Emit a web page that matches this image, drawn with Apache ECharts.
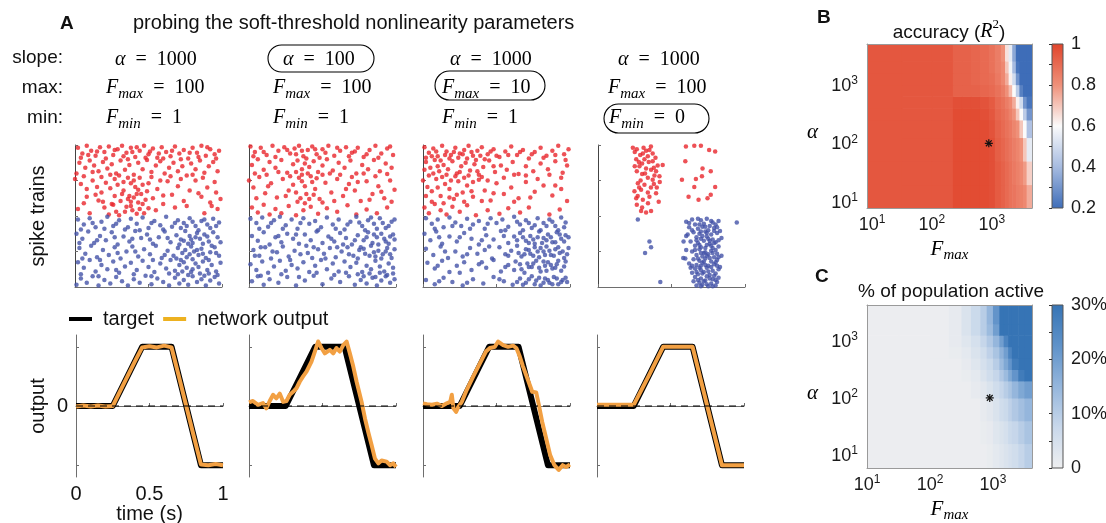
<!DOCTYPE html>
<html>
<head>
<meta charset="utf-8">
<script src="https://cdn.jsdelivr.net/npm/echarts@6/dist/echarts.min.js"></script>
<style>
html, body { margin: 0; padding: 0; background: #fff; }
#chart { width: 1106px; height: 523px; }
</style>
</head>
<body>
<div id="chart"></div>
<script>
const SANS = '"Liberation Sans", Arial, sans-serif'
const SERIF = '"Liberation Serif", "Times New Roman", serif'

// ---------- data ----------
// spike rasters: [time (s), neuron index]; red = upper population, blue = lower
const redSpikes1 = [[0.02,196],[0.05,188],[0.08,199],[0.11,192],[0.14,185],[0.17,197],[0.2,190],[0.23,198],[0.26,186],[0.29,194],[0.32,199],[0.35,189],[0.38,196],[0.41,183],[0.44,192],[0.47,199],[0.5,187],[0.53,195],[0.56,182],[0.59,197],[0.62,190],[0.65,184],[0.68,198],[0.71,188],[0.74,193],[0.77,181],[0.8,196],[0.83,189],[0.86,199],[0.89,185],[0.92,194],[0.95,187],[0.98,192],
  [0.03,175],[0.07,168],[0.1,178],[0.13,171],[0.16,163],[0.19,176],[0.22,167],[0.25,173],[0.28,160],[0.31,178],[0.34,165],[0.37,172],[0.4,158],[0.43,175],[0.46,166],[0.49,179],[0.52,162],[0.55,171],[0.58,177],[0.61,160],[0.64,168],[0.67,175],[0.7,163],[0.73,170],[0.76,157],[0.79,174],[0.82,166],[0.85,178],[0.88,161],[0.91,170],[0.94,176],[0.97,163],
  [0.0,152],[0.04,145],[0.08,138],[0.12,150],[0.15,141],[0.18,133],[0.21,147],[0.24,139],[0.27,128],[0.29,144],[0.31,121],[0.33,136],[0.35,113],[0.37,128],[0.39,108],[0.41,141],[0.43,119],[0.45,131],[0.47,104],[0.5,146],[0.53,125],[0.56,138],[0.6,117],[0.63,149],[0.66,130],[0.7,142],[0.74,121],[0.78,136],[0.82,150],[0.86,127],[0.9,140],[0.93,114],[0.96,133],[0.99,124],
  [0.02,110],[0.06,118],[0.1,104],[0.16,122],[0.2,112],[0.23,102],[0.26,116],[0.3,101],[0.34,106],[0.38,120],[0.42,103],[0.44,110],[0.48,123],[0.55,108],[0.68,112],[0.88,104],[0.97,110],
  [0.04,182],[0.09,186],[0.15,191],[0.21,181],[0.27,193],[0.33,184],[0.36,180],[0.39,190],[0.42,197],[0.48,182],[0.51,191],[0.57,188],[0.6,181],[0.66,192],[0.72,180],[0.78,189],[0.84,183],[0.9,197],[0.96,181],
  [0.01,160],[0.06,156],[0.12,162],[0.18,155],[0.24,158],[0.27,152],[0.3,157],[0.33,148],[0.36,154],[0.38,146],[0.4,150],[0.42,131],[0.44,154],[0.46,144],[0.49,135],[0.52,155],[0.58,150],[0.65,156],[0.72,152],[0.8,158],[0.87,154],[0.95,148],
  [0.25,117],[0.28,106],[0.32,131],[0.36,124],[0.38,114],[0.4,126],[0.43,137],[0.46,117],[0.5,111],[0.6,129],[0.76,114],[0.84,132],[0.92,119],[0.08,127],[0.14,130],[0.19,120]]
const blueSpikes1 = [[0.02,95],[0.06,88],[0.1,97],[0.14,84],[0.18,92],[0.22,99],[0.26,86],[0.3,94],[0.34,81],[0.38,96],[0.42,89],[0.46,98],[0.5,83],[0.54,93],[0.58,87],[0.62,99],[0.66,85],[0.7,94],[0.74,90],[0.78,97],[0.82,86],[0.86,93],[0.9,88],[0.94,96],[0.98,91],
  [0.01,75],[0.05,68],[0.09,78],[0.13,62],[0.17,72],[0.21,66],[0.25,77],[0.29,60],[0.33,71],[0.37,64],[0.41,79],[0.45,69],[0.49,74],[0.53,61],[0.57,70],[0.61,78],[0.65,63],[0.69,73],[0.72,67],[0.75,79],[0.78,72],[0.8,62],[0.83,76],[0.85,68],[0.88,74],[0.91,64],[0.94,77],[0.97,70],
  [0.03,55],[0.07,47],[0.11,58],[0.15,42],[0.19,52],[0.23,45],[0.27,56],[0.31,40],[0.35,50],[0.39,57],[0.43,43],[0.47,53],[0.51,46],[0.55,58],[0.59,41],[0.63,51],[0.67,44],[0.7,55],[0.73,48],[0.76,42],[0.79,57],[0.81,50],[0.84,45],[0.86,54],[0.89,41],[0.92,49],[0.95,56],[0.98,44],
  [0.02,35],[0.06,27],[0.1,38],[0.14,22],[0.18,31],[0.22,25],[0.26,36],[0.3,20],[0.34,29],[0.38,34],[0.42,24],[0.46,37],[0.5,28],[0.54,21],[0.58,33],[0.62,26],[0.65,38],[0.68,23],[0.71,31],[0.74,35],[0.76,27],[0.79,21],[0.82,33],[0.84,28],[0.87,36],[0.9,24],[0.93,31],[0.96,22],[0.99,34],
  [0.01,3],[0.04,12],[0.08,6],[0.12,15],[0.16,2],[0.2,10],[0.24,5],[0.28,14],[0.32,8],[0.36,2],[0.4,11],[0.44,6],[0.48,16],[0.52,4],[0.56,12],[0.6,7],[0.64,2],[0.68,13],[0.71,5],[0.74,10],[0.77,3],[0.8,15],[0.83,7],[0.86,11],[0.89,2],[0.92,9],[0.95,14],[0.98,5],
  [0.04,81],[0.12,90],[0.2,82],[0.28,89],[0.36,84],[0.44,80],[0.52,90],[0.6,81],[0.68,90],[0.72,83],[0.76,86],[0.8,92],[0.84,80],[0.88,95],[0.92,83],[0.96,86],
  [0.03,62],[0.15,66],[0.27,70],[0.39,68],[0.51,67],[0.63,69],[0.71,60],[0.74,65],[0.77,61],[0.79,67],[0.82,70],[0.87,61],[0.9,71],[0.93,58],[0.99,63],
  [0.05,40],[0.17,38],[0.29,48],[0.41,50],[0.53,38],[0.61,45],[0.69,40],[0.72,38],[0.75,52],[0.78,46],[0.8,39],[0.83,52],[0.87,47],[0.91,38],[0.96,48],
  [0.04,18],[0.16,15],[0.28,24],[0.4,18],[0.52,15],[0.64,19],[0.7,18],[0.73,22],[0.77,17],[0.8,25],[0.85,19],[0.88,16],[0.91,19],[0.97,17]]
const redSpikes2 = [[0.01,198],[0.04,190],[0.08,196],[0.12,186],[0.16,199],[0.2,192],[0.24,197],[0.28,188],[0.31,195],[0.34,199],[0.37,184],[0.4,193],[0.43,198],[0.46,187],[0.5,194],[0.54,199],[0.58,185],[0.62,192],[0.66,197],[0.7,189],[0.74,196],[0.78,183],[0.82,193],[0.86,199],[0.9,188],[0.94,195],[0.98,186],
  [0.02,172],[0.06,180],[0.1,165],[0.14,176],[0.18,168],[0.22,179],[0.26,161],[0.3,173],[0.33,178],[0.36,166],[0.38,174],[0.41,169],[0.44,177],[0.47,162],[0.5,171],[0.53,180],[0.57,164],[0.61,175],[0.65,168],[0.69,178],[0.73,160],[0.77,172],[0.81,166],[0.85,179],[0.89,163],[0.93,174],[0.97,168],
  [0.0,150],[0.03,140],[0.07,155],[0.11,132],[0.15,146],[0.19,126],[0.23,152],[0.27,136],[0.3,144],[0.33,120],[0.36,149],[0.39,131],[0.42,156],[0.45,138],[0.48,124],[0.52,147],[0.56,133],[0.6,152],[0.64,128],[0.68,145],[0.72,136],[0.76,121],[0.8,149],[0.84,131],[0.88,142],[0.92,125],[0.96,150],[0.99,137],
  [0.02,112],[0.06,105],[0.1,116],[0.14,102],[0.18,110],[0.22,104],[0.27,114],[0.32,101],[0.37,108],[0.42,113],[0.47,103],[0.53,111],[0.6,106],[0.67,115],[0.73,102],[0.8,109],[0.87,104],[0.94,112],
  [0.03,184],[0.1,190],[0.18,183],[0.26,193],[0.32,187],[0.36,192],[0.39,181],[0.45,194],[0.48,182],[0.52,189],[0.6,196],[0.68,184],[0.72,191],[0.8,187],[0.88,182],[0.96,198],
  [0.04,160],[0.12,158],[0.2,162],[0.28,156],[0.32,162],[0.34,154],[0.36,158],[0.38,142],[0.4,160],[0.43,148],[0.46,153],[0.5,158],[0.55,160],[0.62,158],[0.7,155],[0.78,160],[0.86,156],[0.94,159],
  [0.05,125],[0.13,142],[0.25,128],[0.32,133],[0.35,125],[0.38,118],[0.41,124],[0.44,130],[0.5,119],[0.58,121],[0.66,138],[0.74,148],[0.82,123],[0.9,134],[0.97,120]]
const blueSpikes2 = [[0.01,96],[0.05,90],[0.09,98],[0.13,85],[0.17,94],[0.21,99],[0.25,87],[0.29,95],[0.33,82],[0.37,97],[0.41,89],[0.45,93],[0.49,84],[0.53,98],[0.57,88],[0.61,95],[0.65,81],[0.69,92],[0.73,99],[0.77,86],[0.81,94],[0.85,89],[0.89,97],[0.93,83],[0.97,92],
  [0.02,72],[0.06,65],[0.1,77],[0.14,60],[0.18,70],[0.22,63],[0.26,75],[0.3,68],[0.34,61],[0.38,74],[0.42,66],[0.46,78],[0.5,62],[0.54,71],[0.58,64],[0.62,76],[0.66,69],[0.7,60],[0.74,73],[0.78,66],[0.81,77],[0.84,62],[0.87,70],[0.9,75],[0.93,64],[0.96,71],[0.99,67],
  [0.03,52],[0.07,44],[0.11,56],[0.15,40],[0.19,49],[0.23,57],[0.27,43],[0.31,51],[0.35,46],[0.39,58],[0.43,41],[0.47,53],[0.51,47],[0.55,55],[0.59,42],[0.63,50],[0.67,56],[0.71,44],[0.75,52],[0.79,47],[0.83,58],[0.86,43],[0.88,51],[0.91,46],[0.94,55],[0.97,41],
  [0.01,32],[0.05,24],[0.09,36],[0.13,20],[0.17,29],[0.21,37],[0.25,23],[0.29,31],[0.33,26],[0.37,35],[0.41,21],[0.45,30],[0.49,38],[0.53,25],[0.57,33],[0.61,22],[0.65,36],[0.69,28],[0.73,34],[0.77,21],[0.8,30],[0.83,25],[0.86,37],[0.89,29],[0.92,22],[0.95,33],[0.98,27],
  [0.02,8],[0.06,15],[0.1,3],[0.14,11],[0.2,6],[0.26,14],[0.32,2],[0.38,9],[0.44,16],[0.5,4],[0.56,12],[0.62,7],[0.68,15],[0.72,3],[0.76,10],[0.8,5],[0.84,13],[0.87,2],[0.9,9],[0.93,15],[0.96,6],[0.99,11],
  [0.07,82],[0.15,90],[0.23,82],[0.35,90],[0.47,80],[0.59,82],[0.67,88],[0.75,91],[0.79,80],[0.83,98],[0.87,82],[0.91,90],[0.95,86],[0.99,95],
  [0.08,56],[0.2,72],[0.32,74],[0.44,56],[0.56,68],[0.64,60],[0.72,66],[0.76,56],[0.8,70],[0.85,74],[0.88,60],[0.92,68],[0.95,61],[0.98,74],
  [0.04,44],[0.16,50],[0.28,38],[0.4,48],[0.52,40],[0.6,56],[0.68,46],[0.74,40],[0.78,54],[0.82,44],[0.85,49],[0.9,40],[0.93,50],[0.96,46],[0.99,53],
  [0.08,16],[0.22,18],[0.34,14],[0.46,20],[0.58,17],[0.66,20],[0.74,18],[0.78,15],[0.82,19],[0.86,14],[0.89,20],[0.94,17],[0.98,19]]
const redSpikes3 = [[0.01,197],[0.04,189],[0.07,195],[0.1,184],[0.13,199],[0.16,191],[0.19,186],[0.22,196],[0.25,188],[0.28,193],[0.31,199],[0.34,185],[0.37,192],[0.4,197],[0.44,187],[0.48,194],[0.52,183],[0.56,191],[0.6,198],[0.64,186],[0.68,193],[0.72,181],[0.76,190],[0.8,196],[0.84,185],[0.88,192],[0.92,199],[0.96,187],[0.99,194],
  [0.02,176],[0.05,168],[0.08,179],[0.11,163],[0.14,172],[0.17,166],[0.2,177],[0.23,160],[0.26,170],[0.29,175],[0.32,164],[0.35,173],[0.38,158],[0.41,169],[0.45,178],[0.49,162],[0.53,171],[0.57,165],[0.61,176],[0.65,159],[0.7,170],[0.75,163],[0.8,174],[0.85,166],[0.9,177],[0.95,161],[0.98,171],
  [0.0,150],[0.03,141],[0.06,135],[0.09,152],[0.12,128],[0.15,145],[0.18,138],[0.21,124],[0.24,149],[0.27,133],[0.3,143],[0.34,127],[0.38,151],[0.42,136],[0.46,122],[0.5,146],[0.55,131],[0.6,140],[0.65,125],[0.7,148],[0.76,134],[0.82,143],[0.88,129],[0.94,138],[0.98,121],
  [0.01,112],[0.04,104],[0.08,117],[0.12,108],[0.16,102],[0.2,113],[0.25,106],[0.3,115],[0.36,101],[0.44,108],[0.52,103],[0.58,111],[0.66,105],[0.72,112],[0.86,102],[0.93,109],
  [0.02,182],[0.06,184],[0.09,191],[0.12,178],[0.15,186],[0.18,181],[0.21,190],[0.24,182],[0.27,187],[0.3,181],[0.33,190],[0.36,179],[0.39,185],[0.42,180],[0.46,191],[0.5,185],[0.58,186],[0.66,190],[0.74,187],[0.82,182],[0.9,186],[0.97,179],
  [0.01,165],[0.04,157],[0.07,160],[0.1,170],[0.13,155],[0.16,158],[0.19,150],[0.22,156],[0.25,162],[0.28,154],[0.31,157],[0.34,148],[0.37,163],[0.4,155],[0.44,150],[0.48,170],[0.55,154],[0.62,158],[0.7,157],[0.78,152],[0.86,158],[0.94,154],
  [0.02,128],[0.06,120],[0.1,140],[0.14,118],[0.18,126],[0.23,130],[0.28,120],[0.33,135],[0.4,121],[0.48,132],[0.62,120],[0.73,126],[0.9,143]]
const blueSpikes3 = [[0.02,97],[0.06,89],[0.1,95],[0.14,84],[0.18,98],[0.22,91],[0.26,86],[0.3,96],[0.34,88],[0.38,93],[0.42,82],[0.46,97],[0.5,90],[0.54,95],[0.58,85],[0.62,99],[0.66,88],[0.7,94],[0.74,83],[0.78,97],[0.82,90],[0.86,95],[0.9,86],[0.94,98],[0.97,91],
  [0.01,75],[0.05,66],[0.09,78],[0.13,61],[0.18,71],[0.23,64],[0.28,76],[0.33,68],[0.38,60],[0.43,73],[0.48,67],[0.53,79],[0.58,62],[0.62,71],[0.66,76],[0.7,65],[0.73,72],[0.76,61],[0.79,78],[0.82,69],[0.85,74],[0.88,63],[0.91,77],[0.94,68],[0.97,73],
  [0.02,54],[0.07,45],[0.12,57],[0.17,41],[0.22,50],[0.27,43],[0.32,55],[0.37,47],[0.42,52],[0.47,40],[0.52,56],[0.56,46],[0.6,51],[0.64,58],[0.67,43],[0.7,53],[0.73,47],[0.76,56],[0.79,42],[0.82,50],[0.84,57],[0.87,45],[0.9,53],[0.93,48],[0.96,41],[0.99,55],
  [0.03,34],[0.08,26],[0.13,37],[0.18,21],[0.23,30],[0.28,35],[0.33,24],[0.38,32],[0.43,27],[0.48,38],[0.53,22],[0.58,31],[0.63,36],[0.67,25],[0.71,33],[0.74,28],[0.77,37],[0.8,22],[0.83,30],[0.85,35],[0.88,26],[0.91,32],[0.94,23],[0.97,36],
  [0.02,10],[0.08,4],[0.14,13],[0.2,7],[0.27,2],[0.34,11],[0.41,5],[0.48,14],[0.55,8],[0.61,3],[0.66,12],[0.7,6],[0.74,15],[0.77,9],[0.8,2],[0.83,12],[0.86,6],[0.89,14],[0.92,4],[0.95,10],[0.98,7],
  [0.08,82],[0.2,86],[0.32,82],[0.44,89],[0.56,80],[0.64,92],[0.68,80],[0.72,90],[0.76,87],[0.8,80],[0.84,86],[0.88,92],[0.92,80],[0.96,84],
  [0.11,70],[0.25,70],[0.4,66],[0.55,72],[0.64,66],[0.68,70],[0.72,62],[0.75,67],[0.78,70],[0.81,62],[0.84,66],[0.87,70],[0.9,63],[0.93,74],[0.96,64],[0.99,70],
  [0.15,50],[0.3,46],[0.45,57],[0.58,44],[0.65,48],[0.69,46],[0.72,52],[0.75,44],[0.78,50],[0.8,55],[0.83,45],[0.86,51],[0.89,44],[0.92,56],[0.95,50],[0.98,46],
  [0.1,30],[0.25,20],[0.4,35],[0.56,28],[0.62,24],[0.66,32],[0.69,20],[0.72,28],[0.75,33],[0.79,27],[0.82,36],[0.84,23],[0.87,31],[0.9,27],[0.92,37],[0.96,29],
  [0.11,8],[0.3,6],[0.52,11],[0.64,7],[0.68,3],[0.72,11],[0.76,4],[0.79,13],[0.82,6],[0.85,10],[0.88,4],[0.91,12],[0.94,7],[0.97,13]]
const redSpikes4 = [[0.237,196],[0.264,194],[0.287,186],[0.305,188],[0.327,192],[0.35,193],[0.372,188],[0.391,182],[0.339,184],[0.316,180],[0.372,177],[0.406,171],[0.282,170],[0.327,167],[0.361,165],[0.395,163],[0.264,163],[0.3,159],[0.339,154],[0.372,151],[0.418,156],[0.271,146],[0.316,144],[0.248,135],[0.293,137],[0.339,133],[0.395,132],[0.26,125],[0.305,123],[0.35,127],[0.413,120],[0.264,116],[0.293,107],[0.327,105],[0.361,107],[0.384,157],[0.278,176],[0.44,172],[0.25,190],[0.36,198],[0.3,174],[0.38,145],[0.29,150],[0.34,118],[0.4,140],[0.27,128],
  [0.26,180],[0.31,196],[0.345,176],[0.38,168],[0.32,160],[0.28,140],[0.36,140],[0.3,112],[0.42,148],[0.25,170],
  [0.598,198],[0.655,199],[0.7,199],[0.756,193],[0.797,191],[0.594,177],[0.711,167],[0.767,163],[0.571,151],[0.666,152],[0.707,156],[0.655,141],[0.797,141],[0.616,127],[0.684,123],[0.767,130],[0.745,125]]
const blueSpikes4 = [[0.6,92],[0.64,95],[0.7,94],[0.74,96],[0.78,91],[0.82,93],[0.66,88],[0.72,89],[0.76,86],[0.8,88],[0.62,84],[0.68,82],[0.71,85],[0.75,80],[0.79,83],[0.83,79],[0.65,77],[0.69,75],[0.73,78],[0.77,74],[0.81,76],[0.6,72],[0.67,70],[0.7,68],[0.74,71],[0.78,67],[0.84,69],[0.63,64],[0.68,62],[0.72,65],[0.76,61],[0.8,63],[0.66,58],[0.7,56],[0.74,59],[0.78,55],[0.82,57],[0.6,52],[0.64,50],[0.69,53],[0.73,49],[0.77,51],[0.81,47],[0.67,45],[0.71,43],[0.75,46],[0.79,42],[0.84,44],[0.65,39],[0.69,37],[0.73,40],[0.77,36],[0.81,38],[0.62,33],[0.67,31],[0.71,34],[0.75,30],[0.79,32],[0.83,28],[0.66,26],[0.7,24],[0.74,27],[0.78,23],[0.82,25],[0.64,20],[0.68,18],[0.72,21],[0.76,17],[0.8,19],[0.66,14],[0.7,12],[0.74,15],[0.78,11],[0.82,13],[0.65,8],[0.69,6],[0.73,9],[0.77,5],[0.81,7],[0.67,2],[0.71,3],[0.75,1],[0.8,2],[0.61,74],[0.58,41],[0.63,27],[0.69,88],[0.76,65],[0.72,48],[0.7,30],[0.582,64],[0.594,40],
  [0.62,90],[0.68,96],[0.73,85],[0.77,93],[0.81,84],[0.64,80],[0.7,78],[0.74,76],[0.79,79],[0.67,66],[0.71,72],[0.75,68],[0.79,62],[0.82,66],[0.69,59],[0.73,55],[0.77,58],[0.8,52],[0.66,52],[0.7,48],[0.74,44],[0.78,48],[0.82,42],[0.68,40],[0.72,36],[0.76,41],[0.8,35],[0.64,30],[0.69,27],[0.73,31],[0.77,28],[0.81,30],[0.67,21],[0.71,19],[0.75,22],[0.79,16],[0.68,10],[0.72,8],[0.76,12],[0.8,10],[0.7,1],[0.74,4],[0.78,1],
  [0.271,95],[0.35,64],[0.361,56],[0.32,48],[0.424,7],[0.944,91]]

// output traces: time (s) and value
const targetT = [0, 0.25, 0.45, 0.65, 0.85, 1]
const targetV = [0, 0, 1, 1, -1, -1]
const out1T = [0,0.05,0.1,0.15,0.2,0.25,0.3,0.35,0.4,0.45,0.5,0.55,0.6,0.65,0.7,0.75,0.8,0.85,0.9,0.95,1]
const out1V = [-0.01,0.01,-0.01,0.01,-0.01,0,0.25,0.5,0.75,0.99,1.01,0.99,1.02,0.99,0.5,0,-0.5,-0.99,-1,-0.98,-1]
const out2T = [0,0.027,0.061,0.095,0.118,0.141,0.164,0.186,0.209,0.232,0.255,0.277,0.3,0.323,0.345,0.368,0.391,0.425,0.448,0.47,0.493,0.516,0.55,0.573,0.595,0.618,0.641,0.664,0.686,0.709,0.732,0.766,0.789,0.811,0.834,0.857,0.88,0.902,0.936,0.959,0.982,1]
const out2V = [0.06,0.085,0.02,0.05,-0.04,0.085,0.19,0.13,0.21,0.07,0.085,0.19,0.24,0.3,0.41,0.5,0.58,0.75,0.92,1.09,0.98,0.89,0.95,0.89,0.98,0.92,1.03,1.09,0.89,0.67,0.41,0.07,-0.21,-0.44,-0.66,-0.89,-0.97,-0.92,-0.94,-1,-0.97,-1.03]
const out3T = [0,0.027,0.061,0.095,0.128,0.162,0.185,0.196,0.207,0.225,0.241,0.264,0.297,0.342,0.387,0.428,0.455,0.489,0.511,0.545,0.579,0.613,0.635,0.658,0.68,0.714,0.743,0.77,0.788,0.811,0.838,0.865,0.894,0.923,0.95,0.973,1]
const out3V = [0.045,0.03,0.02,0.04,0,0.045,0.07,0.19,-0.04,-0.1,-0.01,0.07,0.27,0.5,0.72,0.92,0.98,1,1.09,1.03,1,1.02,0.98,0.84,0.67,0.44,0.24,0.23,0.02,-0.27,-0.55,-0.83,-1,-1.08,-1,-1.03,-0.99]
const out4T = [0,0.1,0.25,0.35,0.45,0.55,0.65,0.75,0.85,0.92,1]
const out4V = [0.02,0.02,0.02,0.5,1,1,1,0,-1,-1,-1]

// B: accuracy (R^2); cell edges in log10 units, rows from low alpha to high alpha
const accLogFmaxEdges = [0.917,1.5,2.0,2.35,2.5,2.65,2.8,2.95,3.05,3.15,3.22,3.28,3.34,3.40,3.46,3.52,3.58,3.67]
const accLogAlphaEdges = [0.9,1.3,1.7,2.1,2.4,2.6,2.8,3.0,3.2,3.4,3.69]
const accRows = [
  [0.95,0.95,0.95,0.98,0.98,0.98,0.98,0.97,0.94,0.92,0.9,0.88,0.87,0.85,0.84,0.82,0.75],
  [0.95,0.95,0.95,0.98,0.98,0.98,0.98,0.97,0.94,0.92,0.9,0.88,0.86,0.84,0.82,0.78,0.68],
  [0.95,0.95,0.95,0.98,0.98,0.98,0.98,0.97,0.93,0.91,0.89,0.87,0.85,0.83,0.8,0.7,0.55],
  [0.95,0.95,0.95,0.98,0.98,0.98,0.98,0.96,0.92,0.9,0.88,0.86,0.83,0.8,0.7,0.6,0.42],
  [0.95,0.95,0.95,0.98,0.98,0.98,0.97,0.95,0.91,0.89,0.87,0.84,0.8,0.7,0.6,0.45,0.3],
  [0.95,0.95,0.95,0.97,0.97,0.97,0.96,0.94,0.9,0.88,0.85,0.82,0.75,0.62,0.5,0.3,0.22],
  [0.95,0.95,0.95,0.92,0.92,0.92,0.91,0.9,0.88,0.85,0.8,0.72,0.6,0.45,0.25,0.2,0.2],
  [0.95,0.95,0.95,0.92,0.92,0.91,0.9,0.89,0.86,0.82,0.75,0.62,0.5,0.3,0.2,0.2,0.2],
  [0.95,0.95,0.95,0.92,0.92,0.91,0.9,0.88,0.85,0.82,0.7,0.58,0.4,0.22,0.2,0.2,0.2],
  [0.95,0.95,0.95,0.92,0.92,0.91,0.9,0.88,0.85,0.8,0.65,0.55,0.35,0.2,0.2,0.2,0.2]
]
const accColors = ['#3e6db8', '#a6bbe0', '#fbfbfb', '#ef9079', '#e0442b']

// C: % of population active
const actLogFmaxEdges = [1.0,1.5,2.0,2.3,2.5,2.65,2.8,2.9,3.0,3.1,3.17,3.24,3.3,3.4,3.5,3.62]
const actLogAlphaEdges = [0.77,1.2,1.6,2.0,2.3,2.5,2.7,2.9,3.1,3.3,3.63]
const actRows = [
  [0.5,0.5,0.5,0.5,0.5,0.5,0.5,1,2,3,4,5,6,8,10],
  [0.5,0.5,0.5,0.5,0.5,0.5,1,1.5,3,4,5,7,8,10,12],
  [0.5,0.5,0.5,0.5,0.5,0.5,1.5,2.5,4,6,7,9,11,13,15],
  [0.5,0.5,0.5,0.5,0.5,1.5,2.5,4,6,8,10,12,15,18,20],
  [0.5,0.5,0.5,0.5,1,2,4,6,8,11,14,18,22,28,30],
  [0.5,0.5,0.5,0.5,1.5,3,5,7,10,14,18,22,28,30,30],
  [0.5,0.5,0.5,1,2,4,6,9,12,16,20,26,30,30,30],
  [0.5,0.5,0.5,1.5,3,5,8,11,15,20,26,30,30,30,30],
  [0.5,0.5,0.5,1.5,4,7,10,14,20,30,30,30,30,30,30],
  [0.5,0.5,0.5,1.5,4,7,10,15,22,30,30,30,30,30,30]
]
const actColors = ['#eeeff0', '#c9d8eb', '#95b6dc', '#5f92c9', '#3674b5']

// chosen operating point (Fmax, alpha)
const starPoint = [890, 100]
const logTicks = [1, 2, 3]

// ---------- helpers ----------
const zip = (a, b) => a.map((v, i) => [v, b[i]])

function cells(xEdges, yEdges, rows) {
  const out = []
  rows.forEach((row, r) => row.forEach((v, c) => {
    out.push([xEdges[c], xEdges[c + 1], yEdges[r], yEdges[r + 1], v])
  }))
  return out
}

function renderCell(params, api) {
  const a = api.coord([api.value(0), api.value(3)])
  const b = api.coord([api.value(1), api.value(2)])
  return {
    type: 'rect',
    shape: { x: a[0], y: a[1], width: b[0] - a[0] + 0.6, height: b[1] - a[1] + 0.6 },
    style: { fill: api.visual('color') }
  }
}

function renderStar(params, api) {
  const p = api.coord([api.value(0), api.value(1)])
  const r = 4, d = 2.9
  const seg = (x1, y1, x2, y2) => ({
    type: 'line',
    shape: { x1: p[0] + x1, y1: p[1] + y1, x2: p[0] + x2, y2: p[1] + y2 },
    style: { stroke: '#111', lineWidth: 1.2 }
  })
  return { type: 'group', children: [seg(-r, 0, r, 0), seg(0, -r, 0, r), seg(-d, -d, d, d), seg(-d, d, d, -d)] }
}

function colorbarRender(colors) {
  const stops = colors.slice().reverse().map((c, i, arr) => ({ offset: i / (arr.length - 1), color: c }))
  return function (params, api) {
    const a = api.coord([0, api.value(1)])
    const b = api.coord([1, api.value(0)])
    return {
      type: 'rect',
      shape: { x: a[0], y: a[1], width: b[0] - a[0], height: b[1] - a[1] },
      style: { fill: { type: 'linear', x: 0, y: 0, x2: 0, y2: 1, colorStops: stops }, stroke: '#555', lineWidth: 1 }
    }
  }
}

const powRich = {
  b: { fontFamily: SANS, fontSize: 18, color: '#1a1a1a', lineHeight: 20, verticalAlign: 'bottom' },
  p: { fontFamily: SANS, fontSize: 12, color: '#1a1a1a', lineHeight: 8, verticalAlign: 'top' }
}
const powLabel = v => '{b|10}{p|' + Math.round(v) + '}'

// subscripts: every token hangs from the top of the line, the subscript gets extra top padding
const nameRich = {
  i: { fontFamily: SERIF, fontStyle: 'italic', fontSize: 21, color: '#000', lineHeight: 24, verticalAlign: 'top' },
  s: { fontFamily: SERIF, fontStyle: 'italic', fontSize: 15, color: '#000', lineHeight: 18, verticalAlign: 'top', padding: [9, 0, 0, 0] },
  a: { fontFamily: SERIF, fontStyle: 'italic', fontSize: 21, color: '#000', lineHeight: 24, verticalAlign: 'top', padding: [8, 0, 0, 0] }
}

const axisGray = '#6e6e6e'
const rasterLefts = [75, 249, 423, 598]
const outputLefts = [76, 249, 423, 597]
const panelW = 147
const labelFont = { fontFamily: SANS, fontSize: 20, color: '#111' }

const grids = []
const xAxes = []
const yAxes = []
const series = []

function addGrid(left, top, width, height) {
  grids.push({ left: left, top: top, width: width, height: height, containLabel: false, outerBoundsMode: 'none' })
}

// ---------- A: spike rasters ----------
const redSets = [redSpikes1, redSpikes2, redSpikes3, redSpikes4]
const blueSets = [blueSpikes1, blueSpikes2, blueSpikes3, blueSpikes4]
const tickIn = { show: true, inside: true, length: 3, lineStyle: { color: axisGray } }

rasterLefts.forEach((left, i) => {
  addGrid(left, 145, panelW, 142)
  xAxes.push({
    gridIndex: i, type: 'value', min: 0, max: 1, interval: 0.5,
    axisLine: { show: true, lineStyle: { color: axisGray } },
    axisTick: tickIn, axisLabel: { show: false }, splitLine: { show: false }
  })
  yAxes.push({
    gridIndex: i, type: 'value', min: 0, max: 200, interval: 50,
    axisLine: { show: true, lineStyle: { color: '#444' } },
    axisTick: tickIn, axisLabel: { show: false }, splitLine: { show: false },
    name: i === 0 ? 'spike trains' : '', nameLocation: 'middle', nameGap: 27, nameRotate: 90,
    nameTextStyle: labelFont
  })
  series.push({
    type: 'scatter', xAxisIndex: i, yAxisIndex: i, data: redSets[i], symbolSize: 4.5,
    itemStyle: { color: '#e8262c' }, silent: true
  })
  series.push({
    type: 'scatter', xAxisIndex: i, yAxisIndex: i, data: blueSets[i], symbolSize: 4.5,
    itemStyle: { color: '#4353a8' }, silent: true
  })
})

// ---------- A: output traces ----------
const outSets = [zip(out1T, out1V), zip(out2T, out2V), zip(out3T, out3V), zip(out4T, out4V)]
outputLefts.forEach((left, k) => {
  const i = 4 + k
  addGrid(left, 335, panelW, 142)
  xAxes.push({
    gridIndex: i, type: 'value', min: 0, max: 1, interval: 0.5,
    axisLine: { show: true, lineStyle: { color: axisGray } },
    axisTick: tickIn, splitLine: { show: false },
    axisLabel: Object.assign({ show: k === 0, margin: 7 }, labelFont),
    name: k === 0 ? 'time (s)' : '', nameLocation: 'middle', nameGap: 27,
    nameTextStyle: labelFont
  })
  yAxes.push({
    gridIndex: i, type: 'value', min: -1.2, max: 1.2,
    axisLine: { show: true, lineStyle: { color: axisGray } },
    axisTick: Object.assign({ customValues: [-1, 0, 1] }, tickIn), splitLine: { show: false },
    axisLabel: Object.assign({ show: k === 0, customValues: [0], margin: 8 }, labelFont),
    name: k === 0 ? 'output' : '', nameLocation: 'middle', nameGap: 28, nameRotate: 90,
    nameTextStyle: labelFont
  })
  series.push({
    type: 'line', name: 'target', xAxisIndex: i, yAxisIndex: i, data: zip(targetT, targetV),
    symbol: 'none', lineStyle: { color: '#000', width: 6, join: 'round' }, itemStyle: { color: '#000' },
    silent: true, z: 2
  })
  series.push({
    type: 'line', name: 'network output', xAxisIndex: i, yAxisIndex: i, data: outSets[k],
    symbol: 'none', lineStyle: { color: '#f2a043', width: 4, join: 'round' }, itemStyle: { color: '#edb120' },
    silent: true, z: 3
  })
  series.push({
    type: 'line', name: 'zero', xAxisIndex: i, yAxisIndex: i, data: [[0, 0], [1, 0]],
    symbol: 'none', lineStyle: { color: '#000', width: 1, type: [7, 5] }, silent: true, z: 4
  })
})

// ---------- B and C heat maps ----------
function heatPanel(gi, top, height, xRange, yRange, edgesX, edgesY, rows, colors, barRange, barFmt, barInterval) {
  addGrid(867, top, 165, height)
  addGrid(1052, top, 11, height)
  const boxLine = { show: true, lineStyle: { color: '#9a9a9a' } }
  xAxes.push({
    gridIndex: gi, type: 'value', min: xRange[0], max: xRange[1], z: 5,
    axisLine: boxLine, axisTick: { show: false }, splitLine: { show: false },
    axisLabel: { customValues: logTicks, formatter: powLabel, rich: powRich, margin: 6 },
    name: '{i|F}{s|max}', nameLocation: 'middle', nameGap: 31, nameTextStyle: { rich: nameRich }
  })
  yAxes.push({
    gridIndex: gi, type: 'value', min: yRange[0], max: yRange[1], z: 5,
    axisLine: boxLine, axisTick: { show: false }, splitLine: { show: false },
    axisLabel: { customValues: logTicks, formatter: powLabel, rich: powRich, margin: 9 },
    name: '{a|α}', nameLocation: 'middle', nameGap: 49, nameRotate: 0, nameTextStyle: { rich: nameRich }
  })
  xAxes.push({ gridIndex: gi + 1, type: 'value', min: 0, max: 1, show: false })
  yAxes.push({
    gridIndex: gi + 1, type: 'value', position: 'right', min: barRange[0], max: barRange[1], interval: barInterval, z: 5,
    axisLine: { show: false }, splitLine: { show: false },
    axisTick: { show: true, inside: true, length: 3, lineStyle: { color: '#333' } },
    minorTick: { show: true, splitNumber: 2, length: 3, lineStyle: { color: '#333' } },
    axisLabel: { formatter: barFmt, fontFamily: SANS, fontSize: 18, color: '#1a1a1a', margin: 8 }
  })
  const heatIndex = series.length
  series.push({
    type: 'custom', xAxisIndex: gi, yAxisIndex: gi, renderItem: renderCell, clip: true,
    data: cells(edgesX, edgesY, rows), silent: true, z: 1
  })
  series.push({
    type: 'custom', xAxisIndex: gi, yAxisIndex: gi, renderItem: renderStar, silent: true, z: 3,
    data: [[Math.log10(starPoint[0]), Math.log10(starPoint[1])]]
  })
  series.push({
    type: 'custom', xAxisIndex: gi + 1, yAxisIndex: gi + 1, renderItem: colorbarRender(colors),
    data: [[barRange[0], barRange[1]]], silent: true, z: 1
  })
  return {
    show: false, type: 'continuous', seriesIndex: heatIndex, dimension: 4,
    min: barRange[0], max: barRange[1], inRange: { color: colors }
  }
}

const vmB = heatPanel(8, 44, 164, [0.917, 3.67], [0.9, 3.69], accLogFmaxEdges, accLogAlphaEdges, accRows, accColors,
  [0.2, 1], v => String(parseFloat(v.toFixed(1))), 0.2)
const vmC = heatPanel(10, 305, 163, [1.0, 3.62], [0.77, 3.63], actLogFmaxEdges, actLogAlphaEdges, actRows, actColors,
  [0, 30], v => (v === 0 ? '0' : v + '%'), 10)

// box edges (top / right) for the heat maps
;[8, 10].forEach(gi => {
  const xa = xAxes[gi], ya = yAxes[gi]
  xAxes.push({ gridIndex: gi, type: 'value', position: 'top', min: xa.min, max: xa.max, z: 5,
    axisLine: { show: true, lineStyle: { color: '#9a9a9a' } }, axisTick: { show: false }, axisLabel: { show: false }, splitLine: { show: false } })
  yAxes.push({ gridIndex: gi, type: 'value', position: 'right', min: ya.min, max: ya.max, z: 5,
    axisLine: { show: true, lineStyle: { color: '#9a9a9a' } }, axisTick: { show: false }, axisLabel: { show: false }, splitLine: { show: false } })
})

// ---------- text annotations ----------
const mathRich = {
  i: { fontFamily: SERIF, fontStyle: 'italic', fontSize: 20, fill: '#000', lineHeight: 24, verticalAlign: 'top' },
  s: { fontFamily: SERIF, fontStyle: 'italic', fontSize: 15, fill: '#000', lineHeight: 18, verticalAlign: 'top', padding: [9, 0, 0, 0] },
  n: { fontFamily: SERIF, fontSize: 20, fill: '#000', lineHeight: 24, verticalAlign: 'top' },
  t: { fontFamily: SANS, fontSize: 19, fill: '#111', lineHeight: 24, verticalAlign: 'bottom' },
  p: { fontFamily: SERIF, fontSize: 13, fill: '#000', lineHeight: 12, verticalAlign: 'top' }
}
const EQ = '\u2002=\u2002'
const paramLabels = ['slope:', 'max:', 'min:']
const paramRowY = [62, 90, 120]
const paramCols = [
  { x: [115, 106, 106], text: ['{i|α}{n|' + EQ + '1000}', '{i|F}{s|max}{n|' + EQ + '100}', '{i|F}{s|min}{n|' + EQ + '1}'] },
  { x: [283, 273, 273], text: ['{i|α}{n|' + EQ + '100}', '{i|F}{s|max}{n|' + EQ + '100}', '{i|F}{s|min}{n|' + EQ + '1}'] },
  { x: [450, 442, 442], text: ['{i|α}{n|' + EQ + '1000}', '{i|F}{s|max}{n|' + EQ + '10}', '{i|F}{s|min}{n|' + EQ + '1}'] },
  { x: [618, 608, 609], text: ['{i|α}{n|' + EQ + '1000}', '{i|F}{s|max}{n|' + EQ + '100}', '{i|F}{s|min}{n|' + EQ + '0}'] }
]
const pills = [[268, 45, 106, 27], [435, 71, 110, 29], [604, 104, 105, 29]]

function txt(x, y, text, opts) {
  return {
    type: 'text', x: x, y: y, silent: true,
    style: Object.assign({
      text: text, fill: '#111', font: '19px ' + SANS,
      align: 'left', verticalAlign: 'middle', textAlign: 'left', textVerticalAlign: 'middle'
    }, opts || {})
  }
}

const graphics = [
  txt(60, 24, 'A', { font: 'bold 19px ' + SANS }),
  txt(133, 23, 'probing the soft-threshold nonlinearity parameters', { font: '20px ' + SANS }),
  txt(817, 18, 'B', { font: 'bold 19px ' + SANS }),
  txt(815, 277, 'C', { font: 'bold 19px ' + SANS }),
  txt(949, 30, '{t|accuracy (}{i|R}{p|2}{t|)}', {
    rich: Object.assign({}, mathRich, { i: Object.assign({}, mathRich.i, { verticalAlign: 'bottom' }) }),
    align: 'center', textAlign: 'center'
  }),
  txt(951, 292, '% of population active', { align: 'center', textAlign: 'center' })
]
paramLabels.forEach((s, r) => graphics.push(txt(63, [58, 88, 118][r], s, { align: 'right', textAlign: 'right' })))
paramCols.forEach(col => col.text.forEach((t, r) => graphics.push(txt(col.x[r], paramRowY[r], t, { rich: mathRich }))))
pills.forEach(p => graphics.push({
  type: 'rect', silent: true,
  shape: { x: p[0], y: p[1], width: p[2], height: p[3], r: p[3] / 2 },
  style: { fill: 'none', stroke: '#000', lineWidth: 1.1 }
}))

const chart = echarts.init(document.getElementById('chart'))
chart.setOption({
  animation: false,
  backgroundColor: '#fff',
  grid: grids,
  xAxis: xAxes,
  yAxis: yAxes,
  visualMap: [vmB, vmC],
  legend: {
    left: 64, top: 304, icon: 'rect', itemWidth: 23, itemHeight: 4, itemGap: 9,
    selectedMode: false,
    textStyle: { fontFamily: SANS, fontSize: 20, color: '#111', padding: [0, 0, 0, 6] },
    data: [
      { name: 'target', itemStyle: { color: '#000' } },
      { name: 'network output', itemStyle: { color: '#edb120' } }
    ]
  },
  series: series,
  graphic: graphics
})
</script>
</body>
</html>
